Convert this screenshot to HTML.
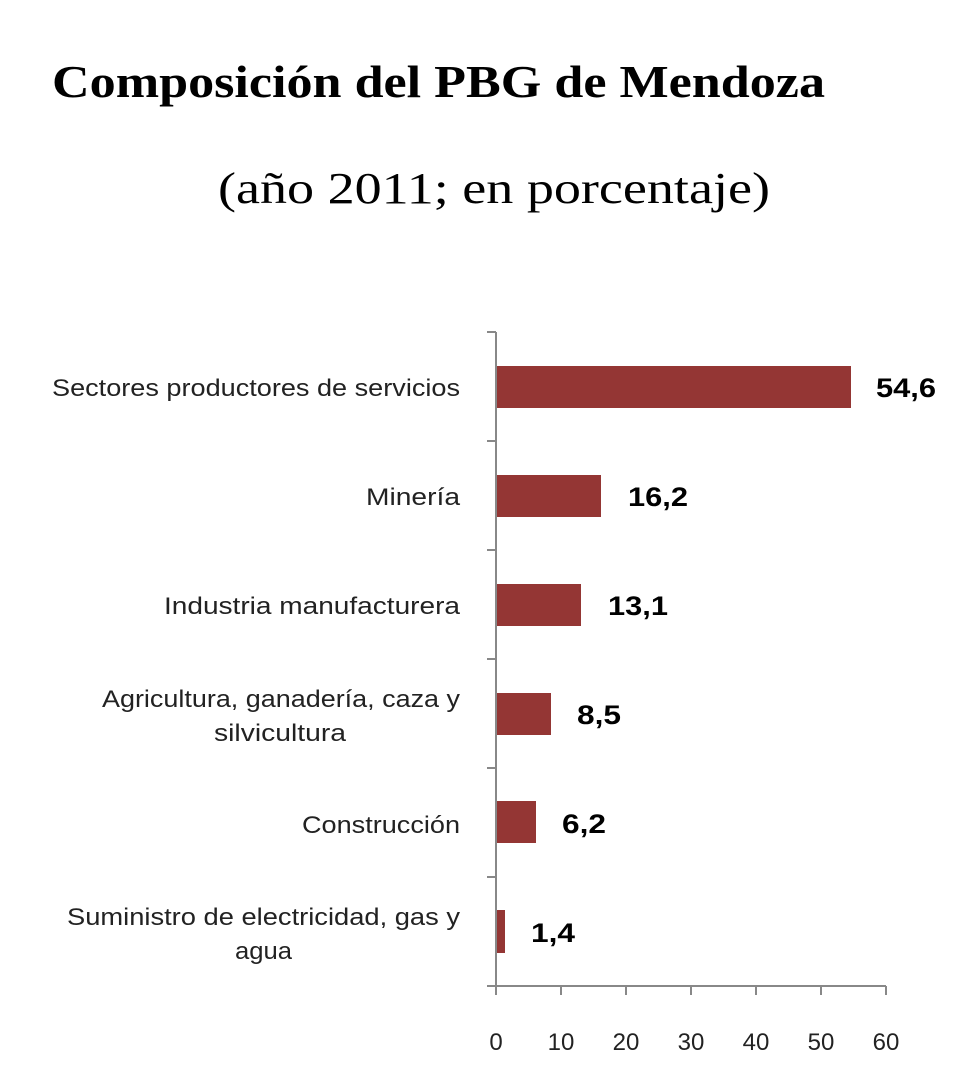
<!DOCTYPE html>
<html><head><meta charset="utf-8"><style>body{margin:0;background:#fff}svg{display:block}</style></head>
<body>
<svg width="970" height="1074" xmlns="http://www.w3.org/2000/svg">
<g font-family="Liberation Serif, serif" fill="#000">
<text x="52" y="97" font-size="46" font-weight="bold" textLength="773" lengthAdjust="spacingAndGlyphs">Composición del PBG de Mendoza</text>
<text x="218" y="203" font-size="44" textLength="552" lengthAdjust="spacingAndGlyphs">(año 2011; en porcentaje)</text>
</g>
<g stroke="#888" stroke-width="2" fill="none">
<line x1="496" y1="332" x2="496" y2="986"/>
<line x1="487" y1="986" x2="886" y2="986"/>
<path d="M487 332H496M487 441H496M487 550H496M487 659H496M487 768H496M487 877H496"/>
<path d="M496 986v9M561 986v9M626 986v9M691 986v9M756 986v9M821 986v9M886 986v9"/>
</g>
<g fill="#943634">
<rect x="497" y="366" width="354" height="42"/>
<rect x="497" y="475" width="104" height="42"/>
<rect x="497" y="584" width="84" height="42"/>
<rect x="497" y="693" width="54" height="42"/>
<rect x="497" y="801" width="39" height="42"/>
<rect x="497" y="910" width="8" height="43"/>
</g>
<g font-family="Liberation Sans, sans-serif" font-weight="bold" font-size="27" fill="#000">
<text x="876" y="397" textLength="60" lengthAdjust="spacingAndGlyphs">54,6</text>
<text x="628" y="506" textLength="60" lengthAdjust="spacingAndGlyphs">16,2</text>
<text x="608" y="615" textLength="60" lengthAdjust="spacingAndGlyphs">13,1</text>
<text x="577" y="724" textLength="44" lengthAdjust="spacingAndGlyphs">8,5</text>
<text x="562" y="833" textLength="44" lengthAdjust="spacingAndGlyphs">6,2</text>
<text x="531" y="942" textLength="44" lengthAdjust="spacingAndGlyphs">1,4</text>
</g>
<g font-family="Liberation Sans, sans-serif" font-size="24" fill="#222" text-anchor="end">
<text x="460" y="396" textLength="408" lengthAdjust="spacingAndGlyphs">Sectores productores de servicios</text>
<text x="460" y="505" textLength="94" lengthAdjust="spacingAndGlyphs">Minería</text>
<text x="460" y="614" textLength="296" lengthAdjust="spacingAndGlyphs">Industria manufacturera</text>
<text x="460" y="707" textLength="358" lengthAdjust="spacingAndGlyphs">Agricultura, ganadería, caza y</text>
<text x="346" y="741" textLength="132" lengthAdjust="spacingAndGlyphs">silvicultura</text>
<text x="460" y="833" textLength="158" lengthAdjust="spacingAndGlyphs">Construcción</text>
<text x="460" y="925" textLength="393" lengthAdjust="spacingAndGlyphs">Suministro de electricidad, gas y</text>
<text x="292" y="959" textLength="57" lengthAdjust="spacingAndGlyphs">agua</text>
</g>
<g font-family="Liberation Sans, sans-serif" font-size="24" fill="#222" text-anchor="middle">
<text x="496" y="1050">0</text><text x="561" y="1050">10</text><text x="626" y="1050">20</text>
<text x="691" y="1050">30</text><text x="756" y="1050">40</text><text x="821" y="1050">50</text><text x="886" y="1050">60</text>
</g>
</svg>
</body></html>
